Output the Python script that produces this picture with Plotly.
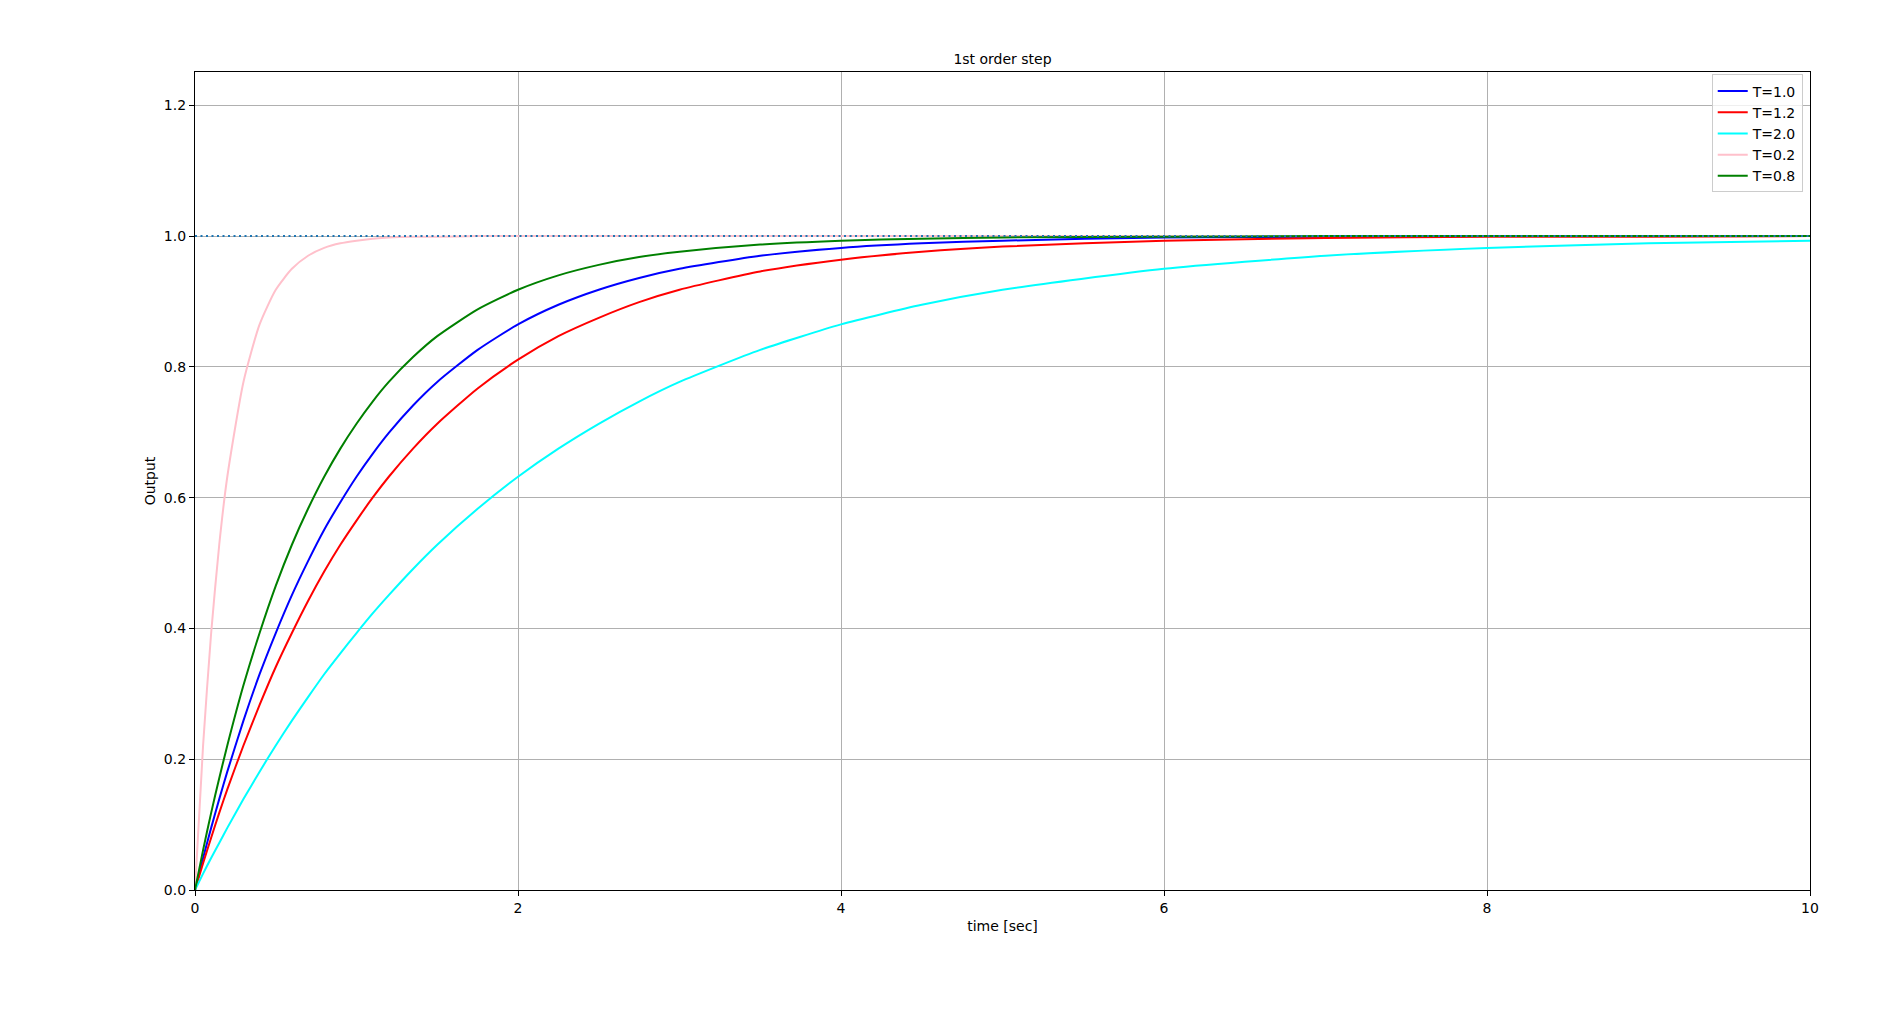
import plotly.graph_objects as go

# time samples [sec]
time = [0, 0.05, 0.1, 0.15, 0.2, 0.3, 0.4, 0.5, 0.6, 0.7, 0.8, 0.9, 1.0, 1.1, 1.2, 1.35,
        1.5, 1.75, 2.0, 2.25, 2.5, 2.75, 3.0, 3.5, 4.0, 4.5, 5.0, 6.0, 7.0, 8.0, 9.0, 10.0]

# outputs
out_T10 = [0, 0.049, 0.095, 0.139, 0.181, 0.259, 0.330, 0.393, 0.451, 0.503, 0.551, 0.593,
           0.632, 0.667, 0.699, 0.741, 0.777, 0.826, 0.865, 0.895, 0.918, 0.936, 0.950,
           0.970, 0.982, 0.989, 0.993, 0.998, 0.999, 1.0, 1.0, 1.0]
out_T12 = [0, 0.041, 0.080, 0.118, 0.154, 0.221, 0.283, 0.341, 0.393, 0.442, 0.487, 0.528,
           0.565, 0.600, 0.632, 0.675, 0.713, 0.767, 0.811, 0.847, 0.875, 0.899, 0.918,
           0.946, 0.964, 0.976, 0.984, 0.993, 0.997, 0.999, 0.999, 1.0]
out_T20 = [0, 0.025, 0.049, 0.072, 0.095, 0.139, 0.181, 0.221, 0.259, 0.295, 0.330, 0.362,
           0.393, 0.423, 0.451, 0.491, 0.528, 0.583, 0.632, 0.675, 0.713, 0.747, 0.777,
           0.826, 0.865, 0.895, 0.918, 0.950, 0.970, 0.982, 0.989, 0.993]
out_T02 = [0, 0.221, 0.393, 0.528, 0.632, 0.777, 0.865, 0.918, 0.950, 0.970, 0.982, 0.989,
           0.993, 0.996, 0.998, 0.999, 0.999, 1.0, 1.0, 1.0, 1.0, 1.0, 1.0,
           1.0, 1.0, 1.0, 1.0, 1.0, 1.0, 1.0, 1.0, 1.0]
out_T08 = [0, 0.061, 0.118, 0.171, 0.221, 0.313, 0.393, 0.465, 0.528, 0.583, 0.632, 0.675,
           0.713, 0.747, 0.777, 0.815, 0.847, 0.888, 0.918, 0.940, 0.956, 0.968, 0.976,
           0.987, 0.993, 0.996, 0.998, 0.999, 1.0, 1.0, 1.0, 1.0]

series_names = ["T=1.0", "T=1.2", "T=2.0", "T=0.2", "T=0.8"]
series_values = [out_T10, out_T12, out_T20, out_T02, out_T08]
series_colors = ["blue", "red", "cyan", "pink", "green"]

reference_x = [0, 10]
reference_y = [1.0, 1.0]

x_ticks = [0, 2, 4, 6, 8, 10]
y_ticks = [0.0, 0.2, 0.4, 0.6, 0.8, 1.0, 1.2]

FONT = "DejaVu Sans, Liberation Sans, sans-serif"
FS = 14

fig = go.Figure()
for name, vals, col in zip(series_names, series_values, series_colors):
    fig.add_trace(go.Scatter(x=time, y=vals, mode="lines", name=name,
                             line=dict(color=col, width=2, shape="spline", smoothing=0.6)))
fig.add_trace(go.Scatter(x=reference_x, y=reference_y, mode="lines",
                         line=dict(color="#1f77b4", width=2, dash="2px,3.5px"),
                         showlegend=False, hoverinfo="skip"))

# page body has an 8px margin at top/left, so the figure is 8px smaller
fig.update_layout(
    width=1872, height=1005,
    margin=dict(l=187, r=70, t=64, b=123),
    paper_bgcolor="white", plot_bgcolor="white",
    font=dict(family=FONT, size=FS, color="black"),
    title=dict(text="1st order step", x=0.5, xref="paper", xanchor="center",
               y=1 - 51 / 1005, yanchor="middle", font=dict(size=FS, family=FONT)),
    legend=dict(x=0.9955, y=0.997, xanchor="right", yanchor="top",
                bgcolor="rgba(255,255,255,0.8)", bordercolor="#cccccc", borderwidth=1,
                font=dict(size=FS, family=FONT), tracegroupgap=0, itemwidth=30),
    showlegend=True,
)
fig.update_xaxes(range=[0, 10], tickvals=x_ticks, ticktext=[str(v) for v in x_ticks],
                 tickfont=dict(size=FS, family=FONT),
                 showgrid=True, gridcolor="#b0b0b0", gridwidth=1,
                 showline=True, linecolor="black", linewidth=1.2, mirror=True,
                 ticks="outside", ticklen=5, tickcolor="black", zeroline=False,
                 title=dict(text="time [sec]", standoff=6, font=dict(size=FS, family=FONT)))
fig.update_yaxes(range=[0, 1.251], tickvals=y_ticks, ticktext=[f"{v:.1f}" for v in y_ticks],
                 tickfont=dict(size=FS, family=FONT),
                 showgrid=True, gridcolor="#b0b0b0", gridwidth=1,
                 showline=True, linecolor="black", linewidth=1.2, mirror=True,
                 ticks="outside", ticklen=5, tickcolor="black", zeroline=False,
                 title=dict(text="Output", standoff=4, font=dict(size=FS, family=FONT)))

fig.write_html("out.html")
